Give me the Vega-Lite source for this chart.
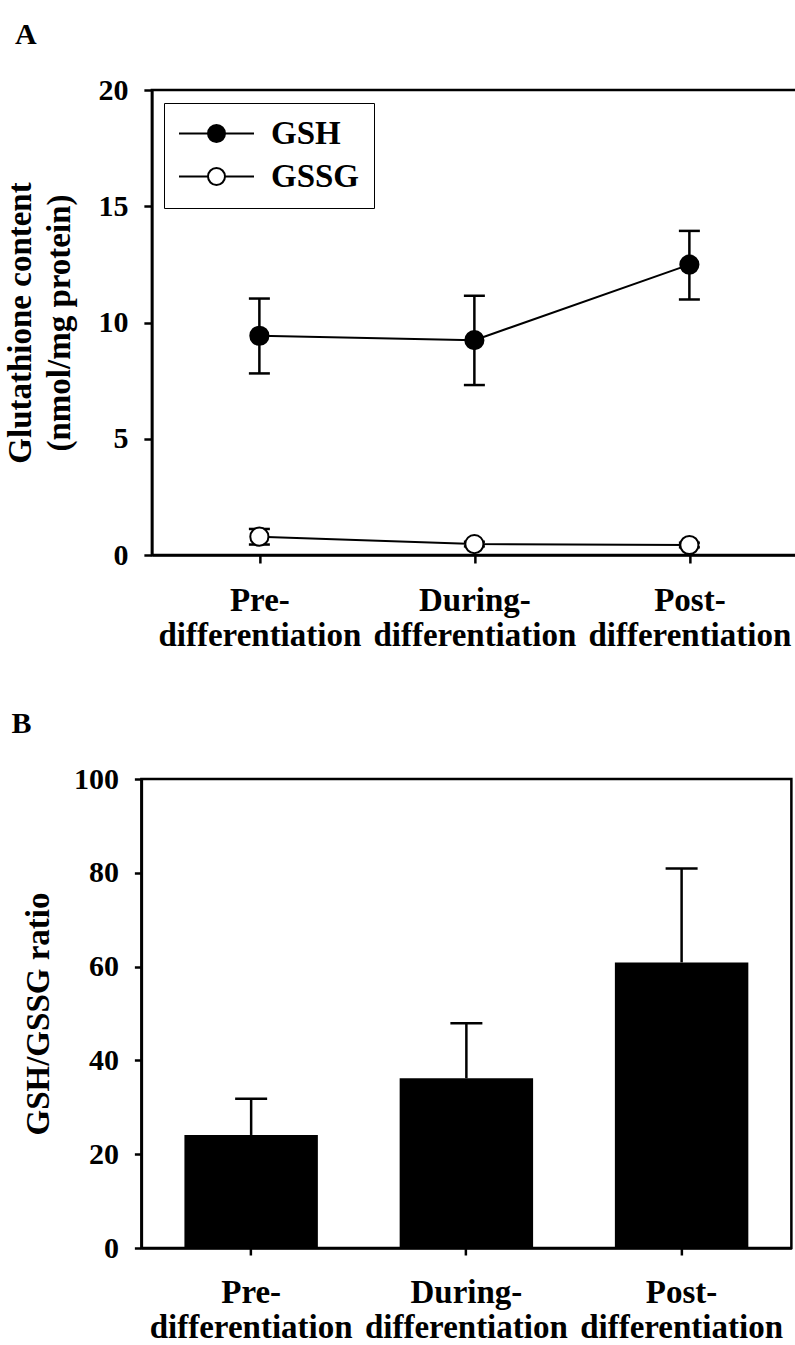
{
  "$schema": "https://vega.github.io/schema/vega-lite/v6.json",
  "background": "white",
  "padding": {"left": 3, "top": 18, "right": 0, "bottom": 0},
  "config": {
    "font": "Liberation Serif",
    "view": {"stroke": "black", "strokeWidth": 2.5},
    "axis": {
      "domainColor": "black", "domainWidth": 2.5,
      "tickColor": "black", "tickWidth": 2.5, "tickSize": 8,
      "labelColor": "black", "labelFont": "Liberation Serif", "labelFontSize": 30, "labelFontWeight": "bold", "labelPadding": 16, "labelLimit": 400,
      "titleColor": "black", "titleFont": "Liberation Serif", "titleFontSize": 33, "titleFontWeight": "bold",
      "grid": false
    }
  },
  "vconcat": [
    {
      "width": 645,
      "height": 465,
      "title": {"text": "A", "anchor": "start", "frame": "group", "dx": -137, "offset": 1, "baseline": "alphabetic", "font": "Liberation Serif", "fontSize": 30, "fontWeight": "bold", "color": "black"},
      "data": {"values": [
        {"stage": "Pre-differentiation", "series": "GSH", "mean": 9.43, "lo": 7.81, "hi": 11.03},
        {"stage": "During-differentiation", "series": "GSH", "mean": 9.24, "lo": 7.31, "hi": 11.15},
        {"stage": "Post-differentiation", "series": "GSH", "mean": 12.49, "lo": 10.99, "hi": 13.94},
        {"stage": "Pre-differentiation", "series": "GSSG", "mean": 0.79, "lo": 0.45, "hi": 1.12},
        {"stage": "During-differentiation", "series": "GSSG", "mean": 0.47, "lo": 0.37, "hi": 0.57},
        {"stage": "Post-differentiation", "series": "GSSG", "mean": 0.43, "lo": 0.33, "hi": 0.53}
      ]},
      "encoding": {
        "x": {
          "field": "stage", "type": "nominal",
          "sort": ["Pre-differentiation", "During-differentiation", "Post-differentiation"],
          "scale": {"type": "point", "padding": 0.5},
          "axis": {"title": null, "labelAngle": 0, "labelPadding": 21, "labelLineHeight": 35, "labelFontSize": 33,
                   "labelExpr": "[split(datum.label,'-')[0] + '-', split(datum.label,'-')[1]]"}
        }
      },
      "layer": [
        {
          "mark": {"type": "line", "color": "black", "strokeWidth": 2},
          "encoding": {
            "y": {"field": "mean", "type": "quantitative",
                  "scale": {"domain": [0, 20], "nice": false},
                  "axis": {"title": ["Glutathione content", "(nmol/mg protein)"], "values": [0, 5, 10, 15, 20], "titlePadding": 21, "titleLineHeight": 39}},
            "detail": {"field": "series"}
          }
        },
        {
          "mark": {"type": "rule", "color": "black", "strokeWidth": 2.5},
          "encoding": {
            "y": {"field": "lo", "type": "quantitative"},
            "y2": {"field": "hi"}
          }
        },
        {
          "mark": {"type": "tick", "orient": "horizontal", "color": "black", "opacity": 1, "thickness": 2.5, "size": 21},
          "encoding": {"y": {"field": "lo", "type": "quantitative"}}
        },
        {
          "mark": {"type": "tick", "orient": "horizontal", "color": "black", "opacity": 1, "thickness": 2.5, "size": 21},
          "encoding": {"y": {"field": "hi", "type": "quantitative"}}
        },
        {
          "mark": {"type": "point", "filled": true, "stroke": "black", "strokeWidth": 2, "size": 330, "opacity": 1},
          "encoding": {
            "y": {"field": "mean", "type": "quantitative"},
            "fill": {
              "field": "series", "type": "nominal",
              "scale": {"domain": ["GSH", "GSSG"], "range": ["black", "white"]},
              "legend": {
                "title": null, "orient": "none", "legendX": 23, "legendY": 13, "padding": 14,
                "strokeColor": "black", "fillColor": "white",
                "symbolType": "M-3.75,0L-0.85,0M0.85,0L3.75,0M0.85,0A0.85,0.85,0,1,1,-0.85,0A0.85,0.85,0,1,1,0.85,0Z",
                "symbolSize": 400, "symbolStrokeColor": "black", "symbolStrokeWidth": 2, "symbolOpacity": 1,
                "symbolOffset": 22, "labelOffset": 38, "rowPadding": 9,
                "labelFont": "Liberation Serif", "labelFontSize": 33, "labelFontWeight": "bold", "labelColor": "black"
              }
            }
          }
        }
      ]
    },
    {
      "width": 650,
      "height": 469,
      "title": {"text": "B", "anchor": "start", "frame": "group", "dx": -130, "offset": 1, "baseline": "alphabetic", "font": "Liberation Serif", "fontSize": 30, "fontWeight": "bold", "color": "black"},
      "data": {"values": [
        {"stage": "Pre-differentiation", "ratio": 24.1, "hi": 31.8},
        {"stage": "During-differentiation", "ratio": 36.2, "hi": 47.9},
        {"stage": "Post-differentiation", "ratio": 60.9, "hi": 80.9}
      ]},
      "encoding": {
        "x": {
          "field": "stage", "type": "nominal",
          "sort": ["Pre-differentiation", "During-differentiation", "Post-differentiation"],
          "scale": {"paddingInner": 0.38, "paddingOuter": 0.2},
          "axis": {"title": null, "labelAngle": 0, "labelPadding": 21, "labelLineHeight": 35, "labelFontSize": 33, "tickSize": 7,
                   "labelExpr": "[split(datum.label,'-')[0] + '-', split(datum.label,'-')[1]]"}
        }
      },
      "layer": [
        {
          "mark": {"type": "bar", "color": "black"},
          "encoding": {
            "y": {"field": "ratio", "type": "quantitative",
                  "scale": {"domain": [0, 100], "nice": false},
                  "axis": {"title": "GSH/GSSG ratio", "values": [0, 20, 40, 60, 80, 100], "titlePadding": 18, "tickSize": 7}}
          }
        },
        {
          "mark": {"type": "rule", "color": "black", "strokeWidth": 2.5},
          "encoding": {
            "y": {"field": "ratio", "type": "quantitative",
                  "axis": {"orient": "right", "domain": false, "labels": false, "ticks": true, "tickSize": 16, "tickOpacity": 0, "title": null, "values": [0]}},
            "y2": {"field": "hi"}
          }
        },
        {
          "mark": {"type": "tick", "orient": "horizontal", "color": "black", "opacity": 1, "thickness": 2.5, "size": 32},
          "encoding": {"y": {"field": "hi", "type": "quantitative", "axis": null}}
        }
      ],
      "resolve": {"axis": {"y": "independent"}}
    }
  ],
  "center": true,
  "spacing": 53
}
